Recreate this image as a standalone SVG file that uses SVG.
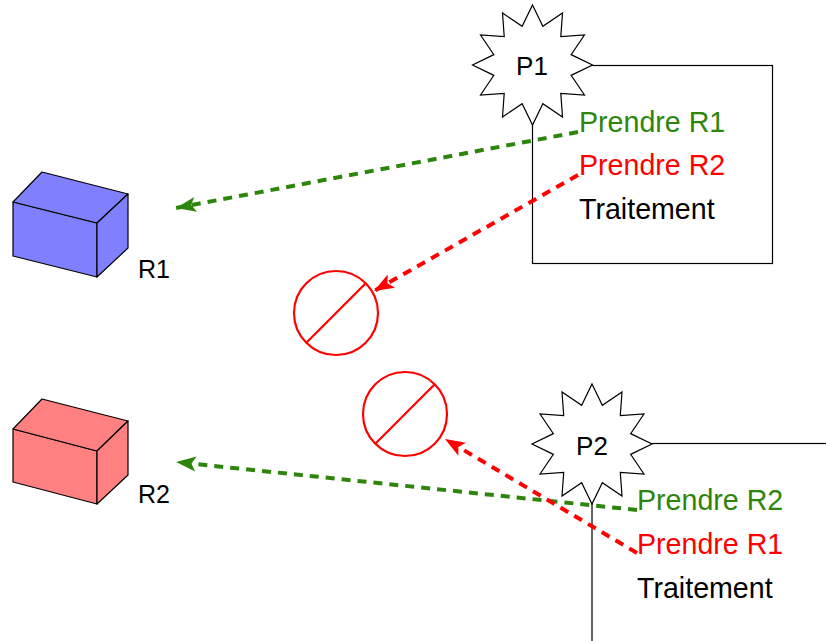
<svg xmlns="http://www.w3.org/2000/svg" xmlns:xlink="http://www.w3.org/1999/xlink" width="826" height="641" viewBox="0 0 826 641">
  <style>
    .lbl { font-family: "Liberation Sans", Arial, sans-serif; }
    .step { font-size: 28.6px; }
    .proc { fill: #fff; stroke: #000; stroke-width: 1.2; }
    .box { stroke: #000; stroke-width: 1.2; stroke-linejoin: round; }
    .ban { fill: none; stroke: #f00; stroke-width: 2.2; }
    .take-ok { fill: none; stroke: #2d860b; stroke-width: 4; stroke-dasharray: 9 7; }
    .take-ko { fill: none; stroke: #f00; stroke-width: 4; stroke-dasharray: 9 7; }
  </style>
  <defs>
    <!-- 12-point star, centred on the origin -->
    <polygon id="star" points="0,-60 10.35,-38.64 30,-51.96 28.28,-28.28 51.96,-30 38.64,-10.35 60,0 38.64,10.35 51.96,30 28.28,28.28 30,51.96 10.35,38.64 0,60 -10.35,38.64 -30,51.96 -28.28,28.28 -51.96,30 -38.64,10.35 -60,0 -38.64,-10.35 -51.96,-30 -28.28,-28.28 -30,-51.96 -10.35,-38.64"/>
    <marker id="arrow-ok" viewBox="-21 -8 22 16" refX="0" refY="0" markerWidth="22" markerHeight="16" markerUnits="userSpaceOnUse" orient="auto">
      <path d="M0,0 L-20,-7.5 L-15.5,0 L-20,7.5 Z" fill="#2d860b"/>
    </marker>
    <marker id="arrow-ko" viewBox="-21 -8 22 16" refX="0" refY="0" markerWidth="22" markerHeight="16" markerUnits="userSpaceOnUse" orient="auto">
      <path d="M0,0 L-20,-7.5 L-15.5,0 L-20,7.5 Z" fill="#f00"/>
    </marker>
  </defs>

  <!-- resource R1 -->
  <g id="r1">
    <polygon class="box" fill="#8080ff" points="13,202 97,223 97,277 13,256"/>
    <polygon class="box" fill="#8080ff" points="13,202 42,172 128,194 97,223"/>
    <polygon class="box" fill="#8080ff" points="97,223 128,194 128,248 97,277"/>
    <text class="lbl" x="138" y="278" font-size="25">R1</text>
  </g>

  <!-- resource R2 -->
  <g id="r2">
    <polygon class="box" fill="#ff8080" points="13,429 97,451 97,504 13,482"/>
    <polygon class="box" fill="#ff8080" points="13,429 42,399 128,421 97,451"/>
    <polygon class="box" fill="#ff8080" points="97,451 128,421 128,475 97,504"/>
    <text class="lbl" x="138" y="503" font-size="25">R2</text>
  </g>

  <!-- blocked requests -->
  <g id="blocked1">
    <circle class="ban" cx="336" cy="313" r="42"/>
    <line class="ban" x1="306.3" y1="342.7" x2="365.7" y2="283.3"/>
  </g>
  <g id="blocked2">
    <circle class="ban" cx="405" cy="414" r="42"/>
    <line class="ban" x1="375.3" y1="443.7" x2="434.7" y2="384.3"/>
  </g>

  <!-- process P1 -->
  <g id="p1">
    <rect class="proc" x="532.5" y="65.5" width="240" height="198"/>
    <use xlink:href="#star" class="proc" transform="translate(532.5,65)"/>
    <text class="lbl" x="532" y="75" font-size="26" text-anchor="middle">P1</text>
    <text class="lbl step" x="579" y="132" fill="#2d860b">Prendre R1</text>
    <text class="lbl step" x="579" y="175" fill="#f00">Prendre R2</text>
    <text class="lbl step" x="579" y="219" fill="#000">Traitement</text>
  </g>

  <!-- process P2 -->
  <g id="p2">
    <rect class="proc" x="592" y="443.5" width="300" height="300"/>
    <use xlink:href="#star" class="proc" transform="translate(592,444)"/>
    <text class="lbl" x="592" y="455" font-size="26" text-anchor="middle">P2</text>
    <text class="lbl step" x="637" y="510" fill="#2d860b">Prendre R2</text>
    <text class="lbl step" x="637" y="554" fill="#f00">Prendre R1</text>
    <text class="lbl step" x="637" y="598" fill="#000">Traitement</text>
  </g>

  <!-- requests -->
  <g id="connectors">
    <path class="take-ok" d="M578,132 L176,208" marker-end="url(#arrow-ok)"/>
    <path class="take-ko" d="M578,175 L374,291" marker-end="url(#arrow-ko)"/>
    <path class="take-ok" d="M637,510 L176,462" marker-end="url(#arrow-ok)"/>
    <path class="take-ko" d="M637,553 L445,439" marker-end="url(#arrow-ko)"/>
  </g>
</svg>
